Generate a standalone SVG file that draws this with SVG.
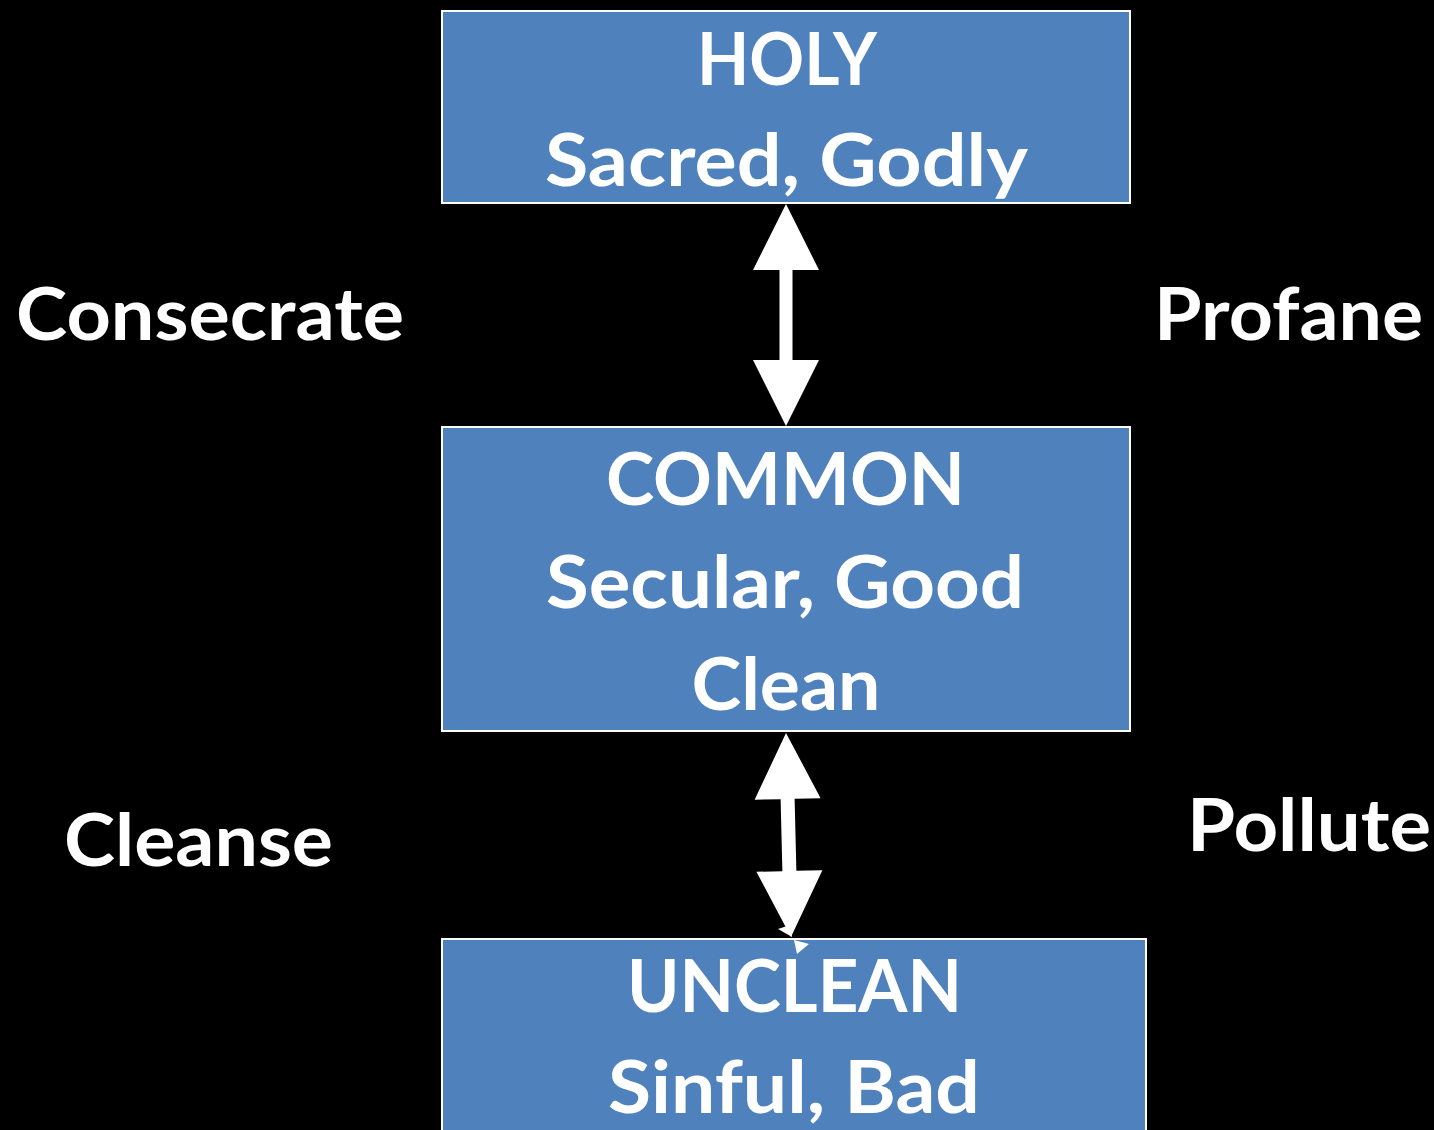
<svg xmlns="http://www.w3.org/2000/svg" width="1434" height="1130" viewBox="0 0 1434 1130">
<style>
.box{fill:#4F81BD;stroke:#FFFFFF;stroke-width:2}
.t{font-family:Lato,"Open Sans","Liberation Sans",sans-serif;font-weight:bold;font-size:73px;fill:#FFFFFF;text-anchor:middle}
.l{font-family:Lato,"Open Sans","Liberation Sans",sans-serif;font-weight:bold;font-size:73px;fill:#FFFFFF}
.arr{fill:#FFFFFF}
</style>
<rect x="0" y="0" width="1434" height="1130" fill="#000000"/>
<g id="holy">
<rect class="box" x="442" y="11" width="688" height="192"/>
<text class="t" x="787" y="85" textLength="180" lengthAdjust="spacingAndGlyphs">HOLY</text>
<text class="t" x="786.5" y="186" textLength="483" lengthAdjust="spacingAndGlyphs">Sacred, Godly</text>
</g>
<g id="common">
<rect class="box" x="442" y="427" width="688" height="304"/>
<text class="t" x="785.5" y="505" textLength="359" lengthAdjust="spacingAndGlyphs">COMMON</text>
<text class="t" x="785" y="608" textLength="478" lengthAdjust="spacingAndGlyphs">Secular, Good</text>
<text class="t" x="786" y="710" textLength="189" lengthAdjust="spacingAndGlyphs">Clean</text>
</g>
<g id="unclean">
<rect class="box" x="442" y="939" width="704" height="220"/>
<text class="t" x="794.5" y="1012" textLength="335" lengthAdjust="spacingAndGlyphs">UNCLEAN</text>
<text class="t" x="794" y="1113" textLength="372" lengthAdjust="spacingAndGlyphs">Sinful, Bad</text>
</g>
<g id="labels">
<text class="l" x="16" y="340" textLength="388" lengthAdjust="spacingAndGlyphs">Consecrate</text>
<text class="l" x="1154" y="340" textLength="269" lengthAdjust="spacingAndGlyphs">Profane</text>
<text class="l" x="64" y="866" textLength="269" lengthAdjust="spacingAndGlyphs">Cleanse</text>
<text class="l" x="1187" y="851" textLength="244" lengthAdjust="spacingAndGlyphs">Pollute</text>
</g>
<g id="connectors">
<polygon class="arr" points="786,204 819,270 792.5,270 792.5,360 819,360 786,426 753,360 779.5,360 779.5,270 753,270"/>
<g transform="translate(786,733) rotate(-1.4)">
<polygon class="arr" points="0,0 33,66 7,66 7,138 33,138 0,204 -33,138 -7,138 -7,66 -33,66"/>
</g>
<polygon class="arr" points="778,929 790,925 792,937"/>
<polygon class="arr" points="794,940 809,944 797,954"/>
</g>
</svg>
